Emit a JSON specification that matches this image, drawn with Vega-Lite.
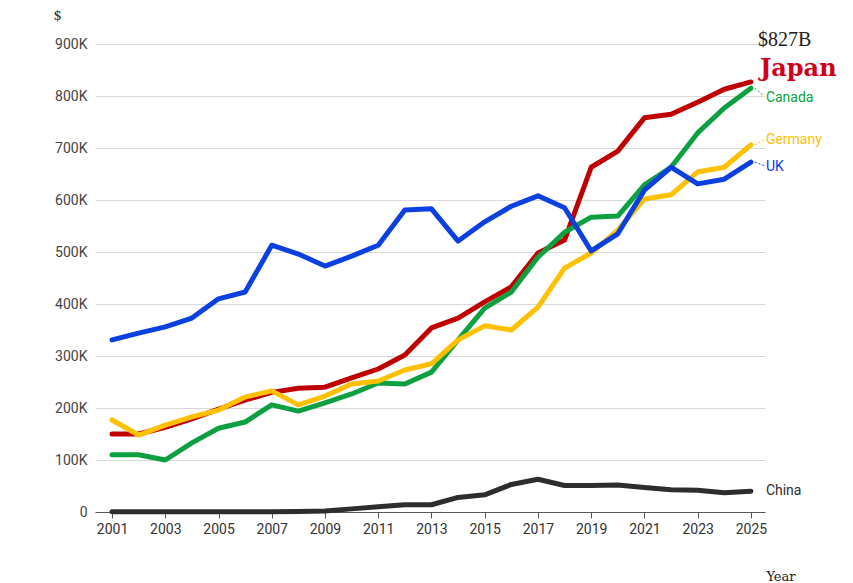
{
  "$schema": "https://vega.github.io/schema/vega-lite/v6.json",
  "width": 670,
  "height": 468,
  "autosize": "none",
  "padding": {"left": 95, "top": 44, "right": 88, "bottom": 71},
  "background": "white",
  "datasets": {
    "series": [
      {"country": "Japan", "year": 2001, "v": 150}, {"country": "Japan", "year": 2002, "v": 150}, {"country": "Japan", "year": 2003, "v": 163}, {"country": "Japan", "year": 2004, "v": 179}, {"country": "Japan", "year": 2005, "v": 198}, {"country": "Japan", "year": 2006, "v": 215}, {"country": "Japan", "year": 2007, "v": 230}, {"country": "Japan", "year": 2008, "v": 238}, {"country": "Japan", "year": 2009, "v": 240}, {"country": "Japan", "year": 2010, "v": 258}, {"country": "Japan", "year": 2011, "v": 275}, {"country": "Japan", "year": 2012, "v": 302}, {"country": "Japan", "year": 2013, "v": 354}, {"country": "Japan", "year": 2014, "v": 373}, {"country": "Japan", "year": 2015, "v": 404}, {"country": "Japan", "year": 2016, "v": 433}, {"country": "Japan", "year": 2017, "v": 498}, {"country": "Japan", "year": 2018, "v": 523}, {"country": "Japan", "year": 2019, "v": 663}, {"country": "Japan", "year": 2020, "v": 694}, {"country": "Japan", "year": 2021, "v": 758}, {"country": "Japan", "year": 2022, "v": 765}, {"country": "Japan", "year": 2023, "v": 788}, {"country": "Japan", "year": 2024, "v": 813}, {"country": "Japan", "year": 2025, "v": 827},
      {"country": "Canada", "year": 2001, "v": 110}, {"country": "Canada", "year": 2002, "v": 110}, {"country": "Canada", "year": 2003, "v": 100}, {"country": "Canada", "year": 2004, "v": 133}, {"country": "Canada", "year": 2005, "v": 161}, {"country": "Canada", "year": 2006, "v": 173}, {"country": "Canada", "year": 2007, "v": 206}, {"country": "Canada", "year": 2008, "v": 194}, {"country": "Canada", "year": 2009, "v": 210}, {"country": "Canada", "year": 2010, "v": 227}, {"country": "Canada", "year": 2011, "v": 248}, {"country": "Canada", "year": 2012, "v": 246}, {"country": "Canada", "year": 2013, "v": 269}, {"country": "Canada", "year": 2014, "v": 331}, {"country": "Canada", "year": 2015, "v": 392}, {"country": "Canada", "year": 2016, "v": 423}, {"country": "Canada", "year": 2017, "v": 490}, {"country": "Canada", "year": 2018, "v": 538}, {"country": "Canada", "year": 2019, "v": 567}, {"country": "Canada", "year": 2020, "v": 569}, {"country": "Canada", "year": 2021, "v": 629}, {"country": "Canada", "year": 2022, "v": 663}, {"country": "Canada", "year": 2023, "v": 729}, {"country": "Canada", "year": 2024, "v": 777}, {"country": "Canada", "year": 2025, "v": 815},
      {"country": "Germany", "year": 2001, "v": 177}, {"country": "Germany", "year": 2002, "v": 148}, {"country": "Germany", "year": 2003, "v": 167}, {"country": "Germany", "year": 2004, "v": 183}, {"country": "Germany", "year": 2005, "v": 196}, {"country": "Germany", "year": 2006, "v": 221}, {"country": "Germany", "year": 2007, "v": 233}, {"country": "Germany", "year": 2008, "v": 206}, {"country": "Germany", "year": 2009, "v": 223}, {"country": "Germany", "year": 2010, "v": 246}, {"country": "Germany", "year": 2011, "v": 252}, {"country": "Germany", "year": 2012, "v": 273}, {"country": "Germany", "year": 2013, "v": 285}, {"country": "Germany", "year": 2014, "v": 331}, {"country": "Germany", "year": 2015, "v": 358}, {"country": "Germany", "year": 2016, "v": 350}, {"country": "Germany", "year": 2017, "v": 394}, {"country": "Germany", "year": 2018, "v": 469}, {"country": "Germany", "year": 2019, "v": 498}, {"country": "Germany", "year": 2020, "v": 542}, {"country": "Germany", "year": 2021, "v": 602}, {"country": "Germany", "year": 2022, "v": 610}, {"country": "Germany", "year": 2023, "v": 654}, {"country": "Germany", "year": 2024, "v": 663}, {"country": "Germany", "year": 2025, "v": 706},
      {"country": "UK", "year": 2001, "v": 331}, {"country": "UK", "year": 2002, "v": 344}, {"country": "UK", "year": 2003, "v": 356}, {"country": "UK", "year": 2004, "v": 373}, {"country": "UK", "year": 2005, "v": 410}, {"country": "UK", "year": 2006, "v": 423}, {"country": "UK", "year": 2007, "v": 513}, {"country": "UK", "year": 2008, "v": 496}, {"country": "UK", "year": 2009, "v": 473}, {"country": "UK", "year": 2010, "v": 492}, {"country": "UK", "year": 2011, "v": 513}, {"country": "UK", "year": 2012, "v": 581}, {"country": "UK", "year": 2013, "v": 583}, {"country": "UK", "year": 2014, "v": 521}, {"country": "UK", "year": 2015, "v": 558}, {"country": "UK", "year": 2016, "v": 588}, {"country": "UK", "year": 2017, "v": 608}, {"country": "UK", "year": 2018, "v": 585}, {"country": "UK", "year": 2019, "v": 502}, {"country": "UK", "year": 2020, "v": 535}, {"country": "UK", "year": 2021, "v": 619}, {"country": "UK", "year": 2022, "v": 663}, {"country": "UK", "year": 2023, "v": 631}, {"country": "UK", "year": 2024, "v": 640}, {"country": "UK", "year": 2025, "v": 673},
      {"country": "China", "year": 2001, "v": 0.5}, {"country": "China", "year": 2002, "v": 0.5}, {"country": "China", "year": 2003, "v": 0.5}, {"country": "China", "year": 2004, "v": 0.5}, {"country": "China", "year": 2005, "v": 0.5}, {"country": "China", "year": 2006, "v": 0.5}, {"country": "China", "year": 2007, "v": 0.5}, {"country": "China", "year": 2008, "v": 1}, {"country": "China", "year": 2009, "v": 2}, {"country": "China", "year": 2010, "v": 6}, {"country": "China", "year": 2011, "v": 10}, {"country": "China", "year": 2012, "v": 14}, {"country": "China", "year": 2013, "v": 14}, {"country": "China", "year": 2014, "v": 28}, {"country": "China", "year": 2015, "v": 33}, {"country": "China", "year": 2016, "v": 53}, {"country": "China", "year": 2017, "v": 63}, {"country": "China", "year": 2018, "v": 51}, {"country": "China", "year": 2019, "v": 51}, {"country": "China", "year": 2020, "v": 52}, {"country": "China", "year": 2021, "v": 47}, {"country": "China", "year": 2022, "v": 43}, {"country": "China", "year": 2023, "v": 42}, {"country": "China", "year": 2024, "v": 37}, {"country": "China", "year": 2025, "v": 40}
    ],
    "labels": [
      {"country": "Canada", "year": 2025, "v": 797},
      {"country": "Germany", "year": 2025, "v": 716},
      {"country": "UK", "year": 2025, "v": 664},
      {"country": "China", "year": 2025, "v": 40}
    ],
    "leaders": [
      {"country": "Canada", "year": 2025, "v": 815, "y2": 800},
      {"country": "Germany", "year": 2025, "v": 706, "y2": 716},
      {"country": "UK", "year": 2025, "v": 673, "y2": 666}
    ]
  },
  "encoding": {
    "x": {"field": "year", "type": "quantitative", "scale": {"domain": [2000.36, 2025.53], "nice": false, "zero": false},
      "axis": {"values": [2001, 2003, 2005, 2007, 2009, 2011, 2013, 2015, 2017, 2019, 2021, 2023, 2025], "format": "d", "grid": false, "title": "Year", "titleFont": "DejaVu Serif", "titleFontWeight": "normal", "titleFontSize": 13, "titleColor": "#222", "titleAnchor": "end", "titleX": 700, "titleY": 58, "labelFontSize": 14, "labelColor": "#333", "labelFont": "Roboto", "domainColor": "#555", "tickColor": "#555", "tickSize": 6, "labelPadding": 4}},
    "y": {"field": "v", "type": "quantitative", "scale": {"domain": [0, 900], "nice": false},
      "axis": {"values": [0, 100, 200, 300, 400, 500, 600, 700, 800, 900], "labelExpr": "datum.value == 0 ? '0' : datum.value + 'K'", "domain": false, "ticks": false, "gridColor": "#d9d9d9", "labelFontSize": 14, "labelColor": "#444", "labelFont": "Roboto", "labelPadding": 8, "title": "$", "titleAngle": 0, "titleFont": "DejaVu Serif", "titleFontWeight": "normal", "titleFontSize": 13, "titleColor": "#222", "titleX": -42, "titleY": -22, "titleAlign": "left"}}
  },
  "layer": [
    {
      "data": {"name": "series"},
      "mark": {"type": "line", "strokeWidth": 5, "strokeCap": "round", "strokeJoin": "round"},
      "encoding": {
        "color": {"field": "country", "type": "nominal", "legend": null,
          "scale": {"domain": ["China", "UK", "Germany", "Canada", "Japan"], "range": ["#2d2d2d", "#0a3fe0", "#ffc000", "#0ca040", "#c00000"]}},
        "order": {"field": "year"}
      }
    },
    {
      "data": {"name": "leaders"},
      "mark": {"type": "rule", "strokeDash": [2, 2], "strokeWidth": 1},
      "encoding": {
        "x": {"datum": 2025.15},
        "x2": {"datum": 2025.5},
        "y2": {"field": "y2"},
        "color": {"field": "country", "type": "nominal", "legend": null}
      }
    },
    {
      "data": {"name": "labels"},
      "mark": {"type": "text", "align": "left", "dx": 15, "fontSize": 14, "font": "Roboto", "baseline": "middle"},
      "encoding": {
        "text": {"field": "country"},
        "color": {"field": "country", "type": "nominal", "legend": null,
          "scale": {"domain": ["China", "UK", "Germany", "Canada", "Japan"], "range": ["#333333", "#0a3fe0", "#a87a00", "#0ca040", "#c00000"]}}
      }
    },
    {
      "data": {"values": [{"t": "Japan", "year": 2025, "v": 852}]},
      "mark": {"type": "text", "align": "left", "dx": 9, "fontSize": 24, "font": "DejaVu Serif", "fontWeight": "bold", "color": "#d0001a", "baseline": "middle"},
      "encoding": {"text": {"field": "t"}}
    },
    {
      "data": {"values": [{"t": "$827B", "year": 2025, "v": 908}]},
      "mark": {"type": "text", "align": "left", "dx": 7, "fontSize": 20, "font": "Liberation Serif", "color": "#222", "baseline": "middle"},
      "encoding": {"text": {"field": "t"}}
    }
  ],
  "config": {"view": {"stroke": null}}
}
